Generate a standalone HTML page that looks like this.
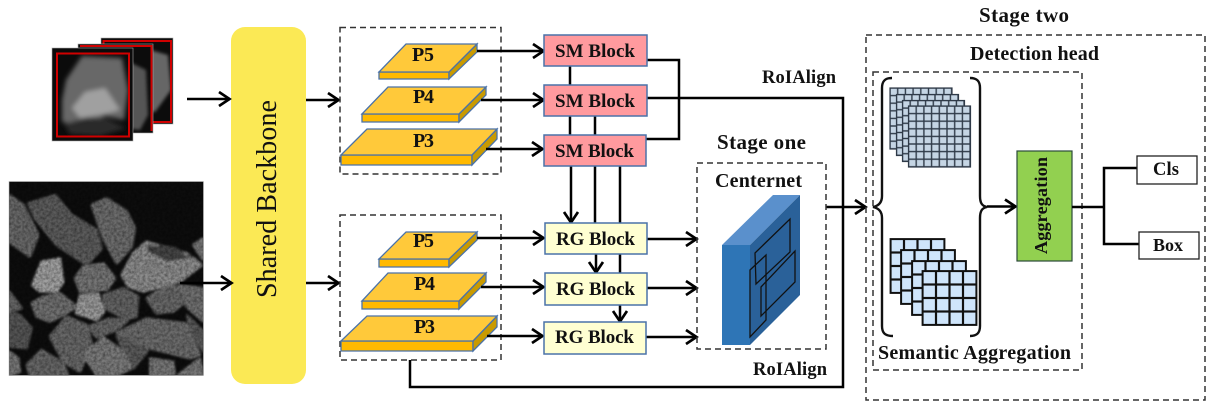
<!DOCTYPE html>
<html>
<head>
<meta charset="utf-8">
<style>
html,body{margin:0;padding:0;background:#fff;width:1213px;height:403px;overflow:hidden}
svg{display:block}
text{font-family:"Liberation Serif",serif;font-weight:bold;fill:#111}
.l{fill:none;stroke:#000;stroke-width:2.5}
.a{fill:none;stroke:#000;stroke-width:2.5;marker-end:url(#ah)}
.d{fill:none;stroke:#333;stroke-width:1.5;stroke-dasharray:6 4}
.t{fill:#FFC93A;stroke:#4A72A8;stroke-width:1.3}
.f{fill:#FFB900;stroke:#4A72A8;stroke-width:1.3}
.s{fill:#C99A00;stroke:#4A72A8;stroke-width:1.3}
.sm{fill:#FF9A9E;stroke:#4A72A8;stroke-width:1.5}
.rg{fill:#FFFFD2;stroke:#4A72A8;stroke-width:1.5}
.b{fill:none;stroke:#111;stroke-width:1.3}
</style>
</head>
<body>
<svg width="1213" height="403" viewBox="0 0 1213 403" xmlns="http://www.w3.org/2000/svg">
<defs>
<marker id="ah" markerUnits="userSpaceOnUse" markerWidth="16" markerHeight="18" refX="12.5" refY="8" orient="auto" overflow="visible">
<path d="M1.500,1 L12,8 L1.500,15" fill="none" stroke="#000" stroke-width="2.7"/>
</marker>
<filter id="bl" x="-10%" y="-10%" width="120%" height="120%">
<feMorphology operator="dilate" radius="3"/>
<feGaussianBlur stdDeviation="3.500"/>
</filter>
<filter id="bl1"><feGaussianBlur stdDeviation="1.5"/></filter>
<filter id="bl2"><feGaussianBlur stdDeviation="2.5"/></filter>
<filter id="noise" x="0" y="0" width="100%" height="100%">
<feTurbulence type="fractalNoise" baseFrequency=".35" numOctaves="2" seed="4"/>
<feColorMatrix type="matrix" values="0 0 0 0 0  0 0 0 0 0  0 0 0 0 0  1.500 0 0 0 -.45"/>
</filter>
<clipPath id="c1"><rect x="27" y="20" width="583" height="582"/></clipPath>
<clipPath id="c2"><rect x="57" y="53" width="72" height="84"/></clipPath>
<clipPath id="c3"><rect x="101" y="38" width="72" height="86"/></clipPath>
<clipPath id="c4"><rect x="78" y="44" width="75" height="89"/></clipPath>
<pattern id="g1" patternUnits="userSpaceOnUse" width="7.7" height="7.6">
<rect width="7.7" height="7.6" fill="#2F3A48"/>
<rect x=".7" y=".7" width="6.3" height="6.2" fill="#C5D5E4"/>
</pattern>
<pattern id="g2" patternUnits="userSpaceOnUse" width="13.5" height="13.5">
<rect width="13.5" height="13.5" fill="#111"/>
<rect x="1.1" y="1.1" width="11.300" height="11.300" fill="#CFE5FB"/>
</pattern>
<g id="la"><rect width="62" height="61" fill="url(#g1)" stroke="#2F3A48" stroke-width="1.2"/></g>
<g id="lb"><rect width="54" height="54" fill="url(#g2)" stroke="#111" stroke-width="1.8"/></g>
</defs>

<!-- small crop stack -->
<rect x="101" y="38" width="72" height="86" fill="#0c0c0c" stroke="#aaa" stroke-width=".6"/>
<g clip-path="url(#c3)" filter="url(#bl1)"><path d="M150,50 L168,55 L171,90 L155,112 L140,110Z" fill="#666"/></g>
<rect x="103.500" y="41" width="67.500" height="81" fill="none" stroke="#D00000" stroke-width="2"/>
<rect x="78" y="44" width="75" height="89" fill="#0c0c0c" stroke="#aaa" stroke-width=".6"/>
<g clip-path="url(#c4)" filter="url(#bl1)"><path d="M125,60 L146,70 L148,115 L140,130 L125,128Z" fill="#555"/></g>
<path d="M80,46 H151.500 V131" fill="none" stroke="#D00000" stroke-width="2"/>
<rect x="52" y="48" width="81" height="93" fill="#0b0b0b" stroke="#aaa" stroke-width=".6"/>
<g clip-path="url(#c2)">
<g filter="url(#bl2)">
<path d="M82,56 L122,58 L128,90 L124,120 L105,116 L85,125 L62,122 L62,100 L66,80Z" fill="#686868"/>
<path d="M85,92 L105,88 L120,110 L105,114 L80,118 L72,108Z" fill="#a0a0a0"/>
<path d="M64,124 L85,118 L105,118 L126,128 L100,136 L70,134Z" fill="#2c2c2c"/>
</g>
</g>
<rect x="57" y="53.500" width="72" height="83" fill="none" stroke="#D00000" stroke-width="2"/>

<!-- big rocks image -->
<rect x="9" y="181.500" width="194.500" height="194" fill="#0d0d0d" stroke="#bbb" stroke-width=".6"/>
<g transform="translate(0,175) scale(.3333)">
<g clip-path="url(#c1)">
<g filter="url(#bl)">
<path d="M27,60 L70,90 L115,180 L90,245 L27,200Z" fill="#686868"/>
<path d="M85,85 L165,60 L215,120 L290,165 L305,220 L260,270 L170,210 L105,130Z" fill="#5c5c5c"/>
<path d="M275,90 L320,70 L380,110 L405,160 L395,215 L350,265 L310,190Z" fill="#6c6c6c"/>
<path d="M365,300 L400,235 L440,200 L560,235 L605,270 L540,320 L430,350 L385,335Z" fill="#8c8c8c"/>
<path d="M440,205 L520,218 L585,250 L500,262 L440,232Z" fill="#444"/>
<path d="M97,330 L125,260 L180,250 L190,320 L170,350 L120,350Z" fill="#a0a0a0"/>
<path d="M225,310 L250,275 L310,265 L345,310 L320,345 L240,350Z" fill="#747474"/>
<path d="M95,385 L130,365 L180,355 L230,395 L190,420 L150,440 L110,425Z" fill="#707070"/>
<path d="M228,415 L240,360 L295,355 L312,410 L290,435Z" fill="#999"/>
<path d="M310,360 L370,340 L415,365 L410,425 L380,432 L315,400Z" fill="#646464"/>
<path d="M440,370 L500,330 L540,335 L550,385 L520,410 L470,415Z" fill="#686868"/>
<path d="M540,330 L610,340 L610,440 L560,395Z" fill="#707070"/>
<path d="M265,455 L330,430 L385,435 L350,465 L290,487Z" fill="#666"/>
<path d="M150,485 L200,425 L260,450 L275,505 L240,590 L190,560Z" fill="#686868"/>
<path d="M350,480 L400,475 L445,525 L400,580 L370,530Z" fill="#5a5a5a"/>
<path d="M250,540 L310,487 L370,530 L395,580 L350,600 L290,600Z" fill="#7a7a7a"/>
<path d="M350,475 L440,430 L560,445 L600,540 L570,550 L450,520Z" fill="#6c6c6c"/>
<path d="M80,570 L125,525 L190,565 L205,602 L90,602Z" fill="#666"/>
<path d="M27,530 L55,550 L60,590 L27,602Z" fill="#777"/>
<path d="M27,410 L60,420 L95,460 L80,520 L27,515Z" fill="#555"/>
<path d="M27,350 L65,400 L27,410Z" fill="#666"/>
<path d="M450,550 L520,560 L525,602 L450,602Z" fill="#777"/>
<path d="M535,600 L600,550 L610,602Z" fill="#777"/>
<path d="M560,420 L610,470 L610,530 L580,480Z" fill="#5a5a5a"/>
<path d="M580,210 L610,190 L610,255Z" fill="#777"/>
</g>
</g>
</g>
<rect x="9.500" y="182" width="193.500" height="193" filter="url(#noise)" opacity=".45"/>

<!-- backbone -->
<rect x="231" y="27" width="75" height="357" rx="14" ry="14" fill="#FBE955"/>
<text transform="translate(276,298) rotate(-90)" font-size="28" textLength="198" style="font-weight:normal">Shared Backbone</text>

<!-- backbone arrows -->
<path class="a" d="M187,99 H230"/>
<path class="a" d="M306,100 H339"/>
<path class="a" d="M180,283 H232"/>
<path class="a" d="M306,283 H339"/>

<!-- dashed FPN boxes -->
<rect class="d" x="340" y="27.500" width="161" height="146.500"/>
<rect class="d" x="340" y="215" width="161" height="145"/>

<!-- pyramid top -->
<path class="f" d="M379,72H449V79H379Z"/><path class="s" d="M449,72L477,44V52L449,79Z"/><path class="t" d="M379,72L406,44H477L449,72Z"/>
<path class="f" d="M362,114H459V122H362Z"/><path class="s" d="M459,114L486,87V95L459,122Z"/><path class="t" d="M362,114L388,87H486L459,114Z"/>
<path class="f" d="M341,155H472V165H341Z"/><path class="s" d="M472,155L497,129V139L472,165Z"/><path class="t" d="M341,155L367,129H497L472,155Z"/>
<!-- pyramid bottom -->
<path class="f" d="M379,259H449V267H379Z"/><path class="s" d="M449,259L477,232V240L449,267Z"/><path class="t" d="M379,259L406,232H477L449,259Z"/>
<path class="f" d="M362,301H459V309H362Z"/><path class="s" d="M459,301L486,273V282L459,309Z"/><path class="t" d="M362,301L388,273H486L459,301Z"/>
<path class="f" d="M341,341H473V351H341Z"/><path class="s" d="M473,341L497,316V327L473,351Z"/><path class="t" d="M341,341L367,316H497L473,341Z"/>

<text x="412" y="61" font-size="20" textLength="22">P5</text>
<text x="413" y="103" font-size="20" textLength="21">P4</text>
<text x="413" y="147" font-size="20" textLength="21">P3</text>
<text x="413" y="247" font-size="20" textLength="21">P5</text>
<text x="414" y="290" font-size="20" textLength="21">P4</text>
<text x="414" y="333" font-size="20" textLength="21">P3</text>

<!-- connectors -->
<path class="a" d="M477,51 H544"/>
<path class="a" d="M481,100 H544"/>
<path class="a" d="M486,149 H543"/>
<path class="a" d="M477,238 H544"/>
<path class="a" d="M481,287 H544"/>
<path class="a" d="M487,336 H543"/>
<path class="a" d="M647,239 H697"/>
<path class="a" d="M647,288 H697"/>
<path class="a" d="M646,337 H697"/>

<path class="l" d="M570,66V85M570,116V135M595,116V135"/>
<path class="a" d="M571,166V223"/>
<path class="l" d="M595,166V223M620,166V223"/>
<path class="a" d="M596,254V273"/>
<path class="l" d="M620,254V273"/>
<path class="a" d="M620,305V322"/>

<path class="l" d="M647,60H679V139H646"/>
<path class="l" d="M647,98H843V387H410V360"/>
<path class="a" d="M826,207H866"/>

<!-- blocks -->
<rect class="sm" x="544" y="35" width="103" height="31"/>
<rect class="sm" x="544" y="85" width="103" height="31"/>
<rect class="sm" x="544" y="135" width="102" height="31"/>
<rect class="rg" x="545" y="223" width="102" height="31"/>
<rect class="rg" x="545" y="273" width="102" height="32"/>
<rect class="rg" x="544" y="322" width="102" height="32"/>
<text x="555" y="57" font-size="19" textLength="80">SM Block</text>
<text x="555" y="107" font-size="19" textLength="80">SM Block</text>
<text x="555" y="157" font-size="19" textLength="79">SM Block</text>
<text x="556" y="245" font-size="19" textLength="79">RG Block</text>
<text x="556" y="295" font-size="19" textLength="79">RG Block</text>
<text x="555" y="343" font-size="19" textLength="79">RG Block</text>

<!-- stage one -->
<text x="717" y="149" font-size="21" textLength="89">Stage one</text>
<rect class="d" x="697" y="163" width="129" height="186"/>
<text x="715" y="187" font-size="20" textLength="87">Centernet</text>
<path d="M722,245H750V345H722Z" fill="#2E75B6"/>
<path d="M722,245L773,195H800L750,245Z" fill="#5A90CC"/>
<path d="M750,245L800,195V295L750,345Z" fill="#2A6199"/>
<path class="b" d="M755,253L790,219V252L756,284Z"/>
<path class="b" d="M750,270L766,255V320L750,337Z"/>
<path class="b" d="M761,287L795,251V282L761,316Z"/>
<text x="762" y="83" font-size="18.500" textLength="74">RoIAlign</text>
<text x="753" y="375" font-size="18.500" textLength="74">RoIAlign</text>

<!-- stage two -->
<text x="979" y="22" font-size="21" textLength="90">Stage two</text>
<rect class="d" x="866" y="35" width="339" height="365"/>
<text x="970" y="60" font-size="20" textLength="129">Detection head</text>
<rect class="d" x="873" y="72" width="209" height="298"/>
<text x="878" y="359" font-size="20" textLength="193">Semantic Aggregation</text>

<!-- grids -->
<use href="#la" x="890" y="88"/>
<use href="#la" x="896.500" y="94.500"/>
<use href="#la" x="902.500" y="100.500"/>
<use href="#la" x="908.500" y="106"/>
<use href="#lb" x="890.500" y="239"/>
<use href="#lb" x="901" y="250"/>
<use href="#lb" x="912" y="261"/>
<use href="#lb" x="922.500" y="271"/>

<!-- braces -->
<path fill="none" stroke="#111" stroke-width="2.4" d="M892,78 C885,78 882,81 882,88 V196 C882,203 878,206 873,207 C878,208 882,211 882,218 V326 C882,333 885,336 893,336"/>
<path fill="none" stroke="#111" stroke-width="2.4" d="M970,78 C977,78 980,81 980,88 V196 C980,203 982,206 987,207 C982,208 980,211 980,218 V326 C980,333 977,336 970,336"/>
<path class="a" d="M987,206.500 H1016"/>

<!-- aggregation -->
<rect x="1017" y="151" width="55" height="110" fill="#92D050" stroke="#2b4a3a" stroke-width="1.2"/>
<text transform="translate(1047,254) rotate(-90)" font-size="18" textLength="97">Aggregation</text>

<path class="l" d="M1072,207H1104M1137,168H1104V244H1139"/>
<rect x="1137" y="156" width="60" height="28" fill="#fff" stroke="#222" stroke-width="1.3"/>
<rect x="1139" y="232" width="60" height="27" fill="#fff" stroke="#222" stroke-width="1.3"/>
<text x="1153" y="175" font-size="18.500" textLength="26">Cls</text>
<text x="1153" y="251" font-size="18" textLength="30">Box</text>
</svg>
</body>
</html>
